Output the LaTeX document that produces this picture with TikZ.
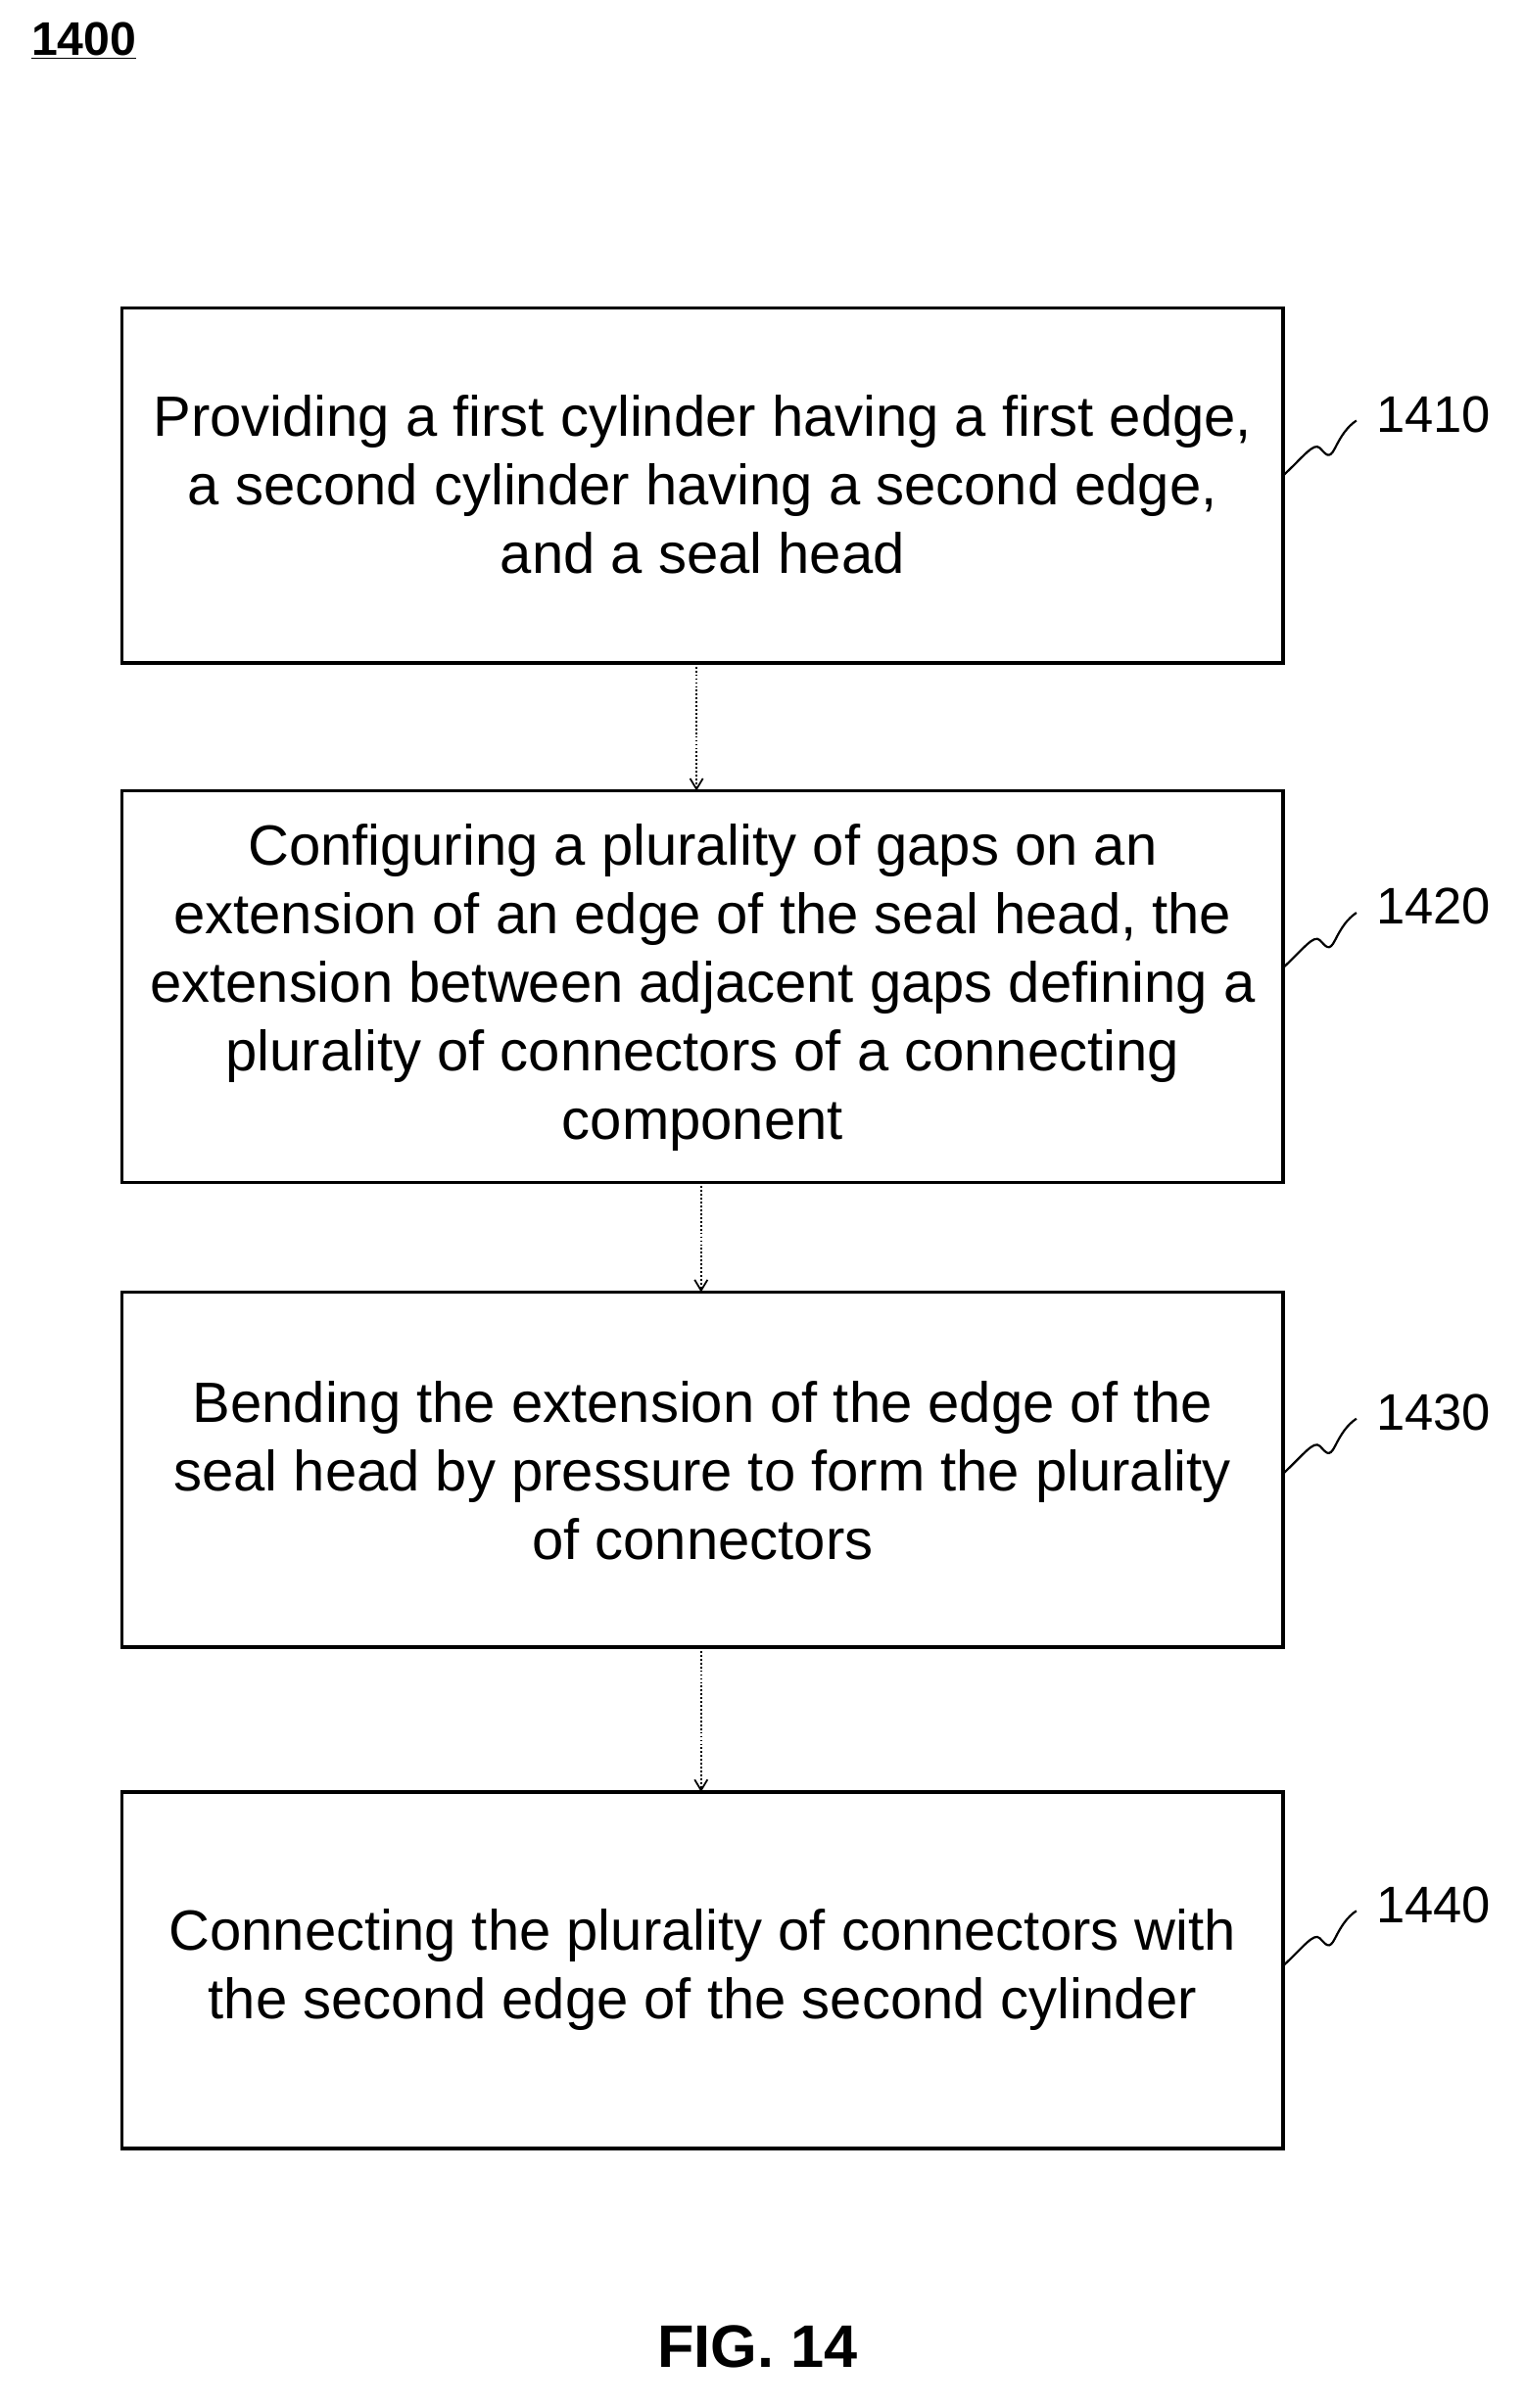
\documentclass[tikz,border=0pt]{standalone}
\usepackage{fontspec}
\setmainfont{Liberation Sans}
\usetikzlibrary{arrows.meta}
\begin{document}
\begin{tikzpicture}[x=0.025cm,y=-0.025cm,
  box/.style={draw,line width=1.6pt,align=center,font=\fontsize{26.5}{32}\selectfont,inner sep=0pt},
  lbl/.style={font=\fontsize{24}{28}\selectfont,anchor=west},
  flow/.style={densely dotted,line width=0.8pt,-{Straight Barb[length=5pt,width=6pt]}},
  squig/.style={line width=1pt}]
\useasboundingbox (0,0) rectangle (1000,1580.3);
\node[font=\bfseries\fontsize{22}{26}\selectfont] (t) at (55,27) {\underline{1400}};
\draw[box] (80,202) rectangle (842,435);
\node[box,draw=none] (b1) at (461,318) {Providing a first cylinder having a first edge,\\a second cylinder having a second edge,\\and a seal head};
\draw[box] (80,519) rectangle (842,776);
\node[box,draw=none] (b2) at (461,648) {Configuring a plurality of gaps on an\\extension of an edge of the seal head, the\\extension between adjacent gaps defining a\\plurality of connectors of a connecting\\component};
\draw[box] (80,848) rectangle (842,1081);
\node[box,draw=none] (b3) at (461,965) {Bending the extension of the edge of the\\seal head by pressure to form the plurality\\of connectors};
\draw[box] (80,1176) rectangle (842,1410);
\node[box,draw=none] (b4) at (461,1293) {Connecting the plurality of connectors with\\the second edge of the second cylinder};
\coordinate (a1) at (457,435); \coordinate (a1e) at (457,519);
\coordinate (a2) at (460,776); \coordinate (a2e) at (460,848);
\coordinate (a3) at (460,1081); \coordinate (a3e) at (460,1176);
\draw[flow] (a1) -- (a1e);
\draw[flow] (a2) -- (a2e);
\draw[flow] (a3) -- (a3e);
\foreach \y/\n in {272/1410,595/1420,927/1430,1250/1440}{
  \node[lbl] (L\n) at (898,\y) {\n};
  \draw[squig] (842,\y+40) .. controls (855,\y+28) and (862,\y+18) .. (866,\y+22)
     .. controls (870,\y+26) and (872,\y+30) .. (876,\y+22)
     .. controls (880,\y+14) and (884,\y+8) .. (890,\y+4);
}
\node[font=\bfseries\fontsize{28}{32}\selectfont] (fig) at (497,1540) {FIG. 14};
\end{tikzpicture}
\end{document}
